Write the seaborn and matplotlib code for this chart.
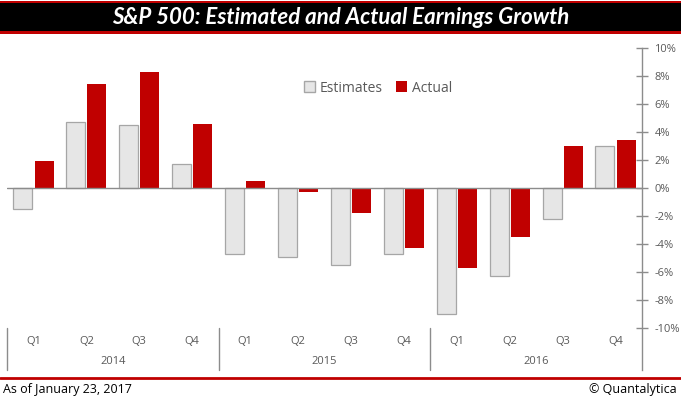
import numpy as np
import pandas as pd
import matplotlib
matplotlib.use("Agg")
import matplotlib.pyplot as plt
from matplotlib.patches import Patch, Rectangle
from matplotlib.lines import Line2D
import seaborn as sns

# Data
years = ["2014", "2015", "2016"]
quarters = ["Q1", "Q2", "Q3", "Q4"]
estimates = [-1.5, 4.7, 4.5, 1.7, -4.7, -4.9, -5.5, -4.7, -9.0, -6.3, -2.2, 3.0]
actual = [1.9, 7.4, 8.3, 4.6, 0.5, -0.3, -1.8, -4.3, -5.7, -3.5, 3.0, 3.4]
y_ticks = [-10, -8, -6, -4, -2, 0, 2, 4, 6, 8, 10]

periods = [f"{y} {q}" for y in years for q in quarters]
df = pd.DataFrame({
    "period": periods * 2,
    "series": ["Estimates"] * len(periods) + ["Actual"] * len(periods),
    "value": estimates + actual,
})

RED = "#C00000"
GREY_FILL = "#E6E6E6"
GREY_EDGE = "#A6A6A6"
AXIS_GREY = "#8C8C8C"
TEXT_GREY = "#595959"

sns.set_theme(style="white")
plt.rcParams["font.family"] = ["Open Sans", "DejaVu Sans"]

fig = plt.figure(figsize=(6.81, 3.99), dpi=100)
ax = fig.add_axes([7 / 681, 29 / 399, 635 / 681, 322 / 399])

sns.barplot(data=df, x="period", y="value", hue="series", order=periods,
            hue_order=["Estimates", "Actual"],
            palette={"Estimates": GREY_FILL, "Actual": RED}, saturation=1,
            width=0.8, gap=0.1, legend=False, ax=ax, zorder=2)

for bar in ax.containers[0]:
    bar.set_edgecolor(GREY_EDGE)
    bar.set_linewidth(0.9)
for bar in ax.containers[1]:
    bar.set_edgecolor("none")

ax.set_xlim(-0.5, 11.5)
ax.set_ylim(-13, 10)
ax.axhline(0, color=AXIS_GREY, lw=1, zorder=3)

# right axis
for s in ["top", "left", "bottom"]:
    ax.spines[s].set_visible(False)
ax.spines["right"].set_color(AXIS_GREY)
ax.spines["right"].set_linewidth(1)
ax.yaxis.tick_right()
ax.set_yticks(y_ticks)
ax.set_yticklabels([f"{t}%" for t in y_ticks], color=TEXT_GREY, fontsize=8)
ax.tick_params(axis="y", direction="inout", length=8, width=1, color=AXIS_GREY, pad=5, right=True)
ax.set_xticks([])
ax.set_xlabel("")
ax.set_ylabel("")

# category labels
for i, p in enumerate(periods):
    ax.text(i, -10.93, p.split()[1], ha="center", va="center", fontsize=8, color=TEXT_GREY)
for j, y in enumerate(years):
    ax.text(j * 4 + 1.5, -12.36, y, ha="center", va="center", fontsize=8, color=TEXT_GREY)
for xb in [-0.5, 3.5, 7.5]:
    ax.plot([xb, xb], [-10, -13], color=AXIS_GREY, lw=1, clip_on=False)

# legend
handles = [Patch(facecolor=GREY_FILL, edgecolor=GREY_EDGE, label="Estimates"),
           Patch(facecolor=RED, edgecolor="none", label="Actual")]
leg = ax.legend(handles=handles, loc="center", bbox_to_anchor=(378 / 681, 1 - 88 / 399),
                bbox_transform=fig.transFigure, ncol=2, frameon=False,
                handlelength=0.8, handleheight=0.8, handletextpad=0.3, columnspacing=1.0,
                fontsize=10)
for t in leg.get_texts():
    t.set_color(TEXT_GREY)

# title banner
fig.patches.append(Rectangle((0, 1 - 34 / 399), 1, 33 / 399, transform=fig.transFigure,
                             facecolor=RED, edgecolor="none", zorder=0))
fig.patches.append(Rectangle((0, 1 - 31 / 399), 1, 28 / 399, transform=fig.transFigure,
                             facecolor="black", edgecolor="none", zorder=1))
fig.text(0.5, 1 - 17 / 399, "S&P 500: Estimated and Actual Earnings Growth",
         ha="center", va="center", color="white", fontsize=16,
         fontweight="bold", fontstyle="italic", family=["Lato", "DejaVu Sans"])

# footer
fig.add_artist(Line2D([0, 1], [1 - 378 / 399] * 2, transform=fig.transFigure, color=RED, lw=2))
fig.text(3 / 681, 1 - 389 / 399, "As of January 23, 2017", ha="left", va="center",
         fontsize=9, color="black")
fig.text(677 / 681, 1 - 389 / 399, "© Quantalytica", ha="right", va="center",
         fontsize=9, color="black")

fig.savefig("out.png", dpi=100)
